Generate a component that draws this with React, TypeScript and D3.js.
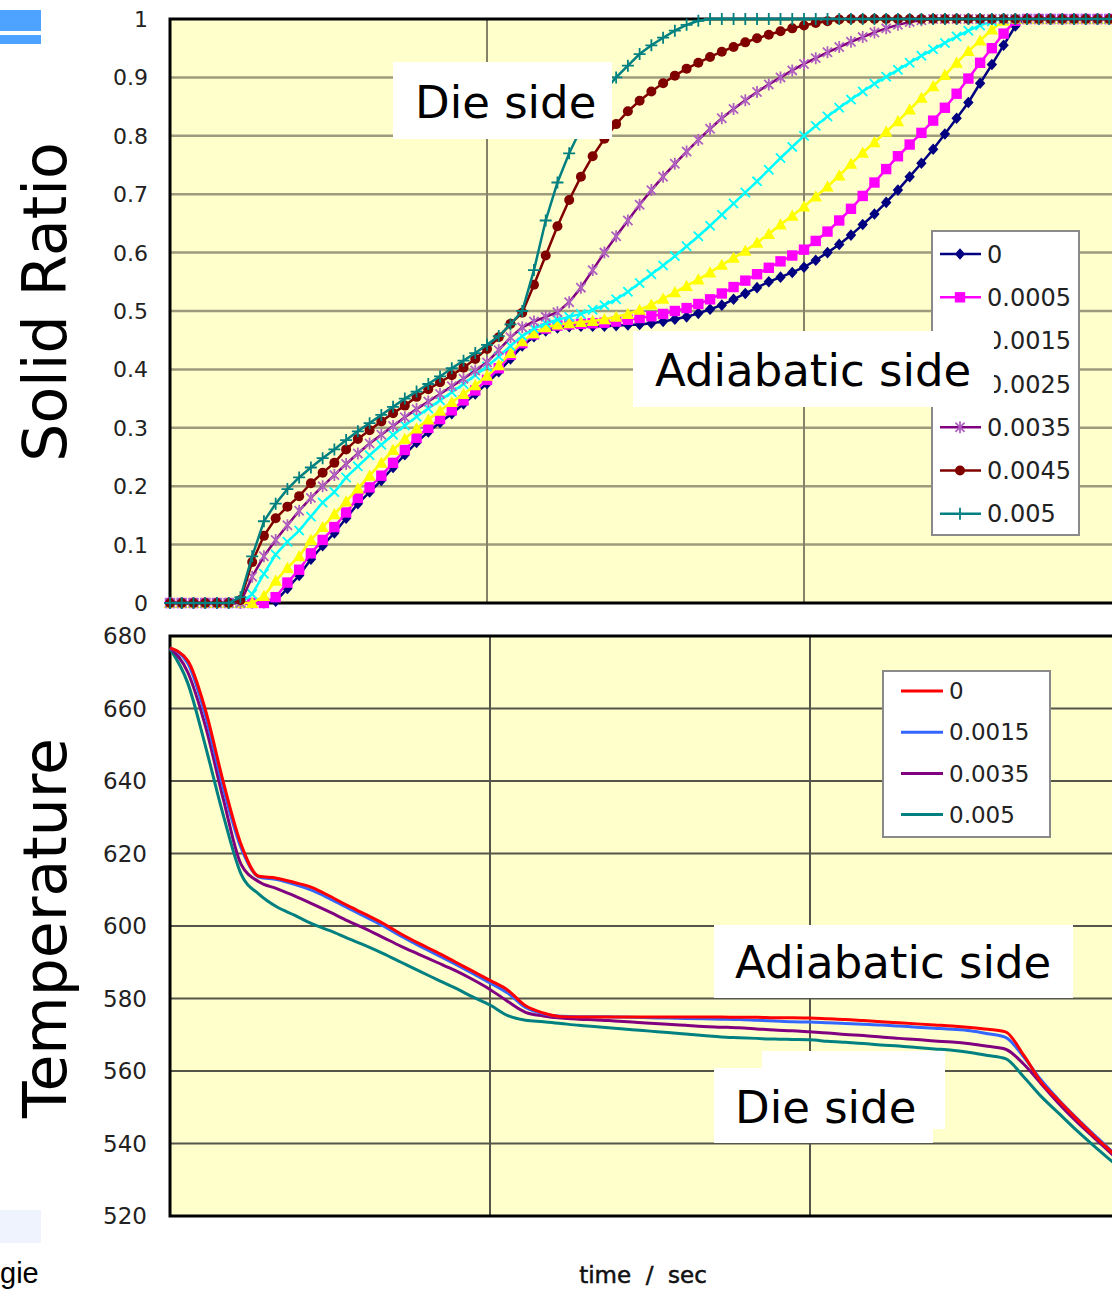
import React, { useEffect, useRef } from 'react'
import * as d3 from 'd3'

// ---- Solid ratio (top panel) ----
const solidLabels = ['0', '0.0005', '0.0015', '0.0025', '0.0035', '0.0045', '0.005']
const solidTicks = [0, 0.1, 0.2, 0.3, 0.4, 0.5, 0.6, 0.7, 0.8, 0.9, 1]
const solidTickText = ['0', '0.1', '0.2', '0.3', '0.4', '0.5', '0.6', '0.7', '0.8', '0.9', '1']
const solidTimeGrid = [27, 54]

const solid0 = [
  0, 0, 0, 0, 0, 0, 0, 0, 0, 0.003,
  0.025, 0.047, 0.075, 0.098, 0.12, 0.145, 0.17, 0.19, 0.21, 0.232,
  0.254, 0.275, 0.293, 0.309, 0.324, 0.341, 0.358, 0.376, 0.396, 0.418,
  0.44, 0.456, 0.466, 0.471, 0.473, 0.474, 0.474, 0.474, 0.475, 0.476,
  0.477, 0.479, 0.482, 0.486, 0.49, 0.496, 0.503, 0.51, 0.52, 0.53,
  0.54, 0.55, 0.558, 0.566, 0.575, 0.587, 0.6, 0.614, 0.63, 0.648,
  0.666, 0.686, 0.707, 0.73, 0.753, 0.777, 0.803, 0.83, 0.857, 0.89,
  0.922, 0.955, 0.988, 1, 1, 1, 1, 1, 1, 1,
  1, 1,
]
const solid0005 = [
  0, 0, 0, 0, 0, 0, 0, 0, 0, 0.01,
  0.035, 0.057, 0.085, 0.108, 0.13, 0.155, 0.18, 0.198, 0.218, 0.24,
  0.262, 0.283, 0.3, 0.315, 0.33, 0.347, 0.364, 0.382, 0.402, 0.425,
  0.445, 0.46, 0.47, 0.475, 0.477, 0.478, 0.479, 0.48, 0.482, 0.485,
  0.488, 0.491, 0.495, 0.5, 0.505, 0.512, 0.52, 0.53, 0.541, 0.552,
  0.563, 0.574, 0.585, 0.595, 0.605, 0.62, 0.636, 0.655, 0.675, 0.697,
  0.72, 0.743, 0.765, 0.785, 0.805, 0.826, 0.848, 0.872, 0.898, 0.925,
  0.95, 0.975, 0.997, 1, 1, 1, 1, 1, 1, 1,
  1, 1,
]
const solid0015 = [
  0, 0, 0, 0, 0, 0, 0, 0, 0.012, 0.038,
  0.06, 0.08, 0.108, 0.13, 0.152, 0.174, 0.196, 0.218, 0.24, 0.262,
  0.281, 0.299, 0.314, 0.329, 0.344, 0.358, 0.373, 0.389, 0.407, 0.428,
  0.448, 0.462, 0.472, 0.477, 0.479, 0.481, 0.483, 0.486, 0.49, 0.495,
  0.502, 0.511, 0.521, 0.532, 0.543, 0.554, 0.566, 0.579, 0.591, 0.603,
  0.617, 0.632, 0.648, 0.663, 0.679, 0.696, 0.713, 0.732, 0.752, 0.771,
  0.789, 0.807, 0.825, 0.845, 0.865, 0.885, 0.904, 0.925, 0.945, 0.963,
  0.982, 0.997, 1, 1, 1, 1, 1, 1, 1, 1,
  1, 1,
]
const solid0025 = [
  0, 0, 0, 0, 0, 0, 0, 0.015, 0.05, 0.083,
  0.105, 0.124, 0.148, 0.172, 0.19, 0.215, 0.234, 0.253, 0.271, 0.288,
  0.304, 0.319, 0.333, 0.347, 0.361, 0.375, 0.39, 0.405, 0.422, 0.44,
  0.457, 0.47, 0.479, 0.485, 0.49, 0.495, 0.502, 0.51, 0.52, 0.533,
  0.548, 0.563, 0.578, 0.594, 0.611, 0.628, 0.646, 0.665, 0.684, 0.703,
  0.722, 0.742, 0.762, 0.781, 0.8, 0.817, 0.833, 0.848, 0.862, 0.876,
  0.889, 0.901, 0.913, 0.925, 0.937, 0.948, 0.959, 0.97, 0.98, 0.989,
  0.996, 1, 1, 1, 1, 1, 1, 1, 1, 1,
  1, 1,
]
const solid0035 = [
  0, 0, 0, 0, 0, 0, 0, 0.045, 0.08, 0.108,
  0.133, 0.158, 0.18, 0.2, 0.219, 0.238, 0.256, 0.273, 0.288, 0.303,
  0.318, 0.332, 0.345, 0.358, 0.371, 0.384, 0.398, 0.412, 0.433, 0.455,
  0.472, 0.482, 0.49, 0.498, 0.515, 0.54, 0.57, 0.6, 0.628, 0.655,
  0.682, 0.707, 0.73, 0.752, 0.773, 0.793, 0.812, 0.83, 0.846, 0.861,
  0.875, 0.888, 0.9, 0.912, 0.923, 0.933, 0.943, 0.952, 0.961, 0.969,
  0.977, 0.984, 0.99, 0.995, 0.998, 1, 1, 1, 1, 1,
  1, 1, 1, 1, 1, 1, 1, 1, 1, 1,
  1, 1,
]
const solid0045 = [
  0, 0, 0, 0, 0, 0, 0.005, 0.07, 0.115, 0.145,
  0.165, 0.183, 0.205, 0.223, 0.24, 0.263, 0.281, 0.296, 0.311, 0.325,
  0.338, 0.353, 0.366, 0.378, 0.39, 0.403, 0.418, 0.435, 0.455, 0.478,
  0.497, 0.545, 0.595, 0.645, 0.69, 0.73, 0.765, 0.795, 0.82, 0.842,
  0.86, 0.876, 0.89, 0.903, 0.915, 0.925, 0.935, 0.944, 0.952, 0.96,
  0.967, 0.973, 0.979, 0.984, 0.989, 0.993, 0.996, 0.999, 1, 1,
  1, 1, 1, 1, 1, 1, 1, 1, 1, 1,
  1, 1, 1, 1, 1, 1, 1, 1, 1, 1,
  1, 1,
]
const solid005 = [
  0, 0, 0, 0, 0, 0, 0.01, 0.08, 0.14, 0.17,
  0.195, 0.215, 0.232, 0.248, 0.263, 0.279, 0.294, 0.308, 0.322, 0.336,
  0.35, 0.362, 0.375, 0.388, 0.402, 0.415, 0.428, 0.442, 0.457, 0.477,
  0.5, 0.57, 0.655, 0.72, 0.77, 0.812, 0.848, 0.877, 0.9, 0.92,
  0.94, 0.955, 0.968, 0.98, 0.99, 0.997, 1, 1, 1, 1,
  1, 1, 1, 1, 1, 1, 1, 1, 1, 1,
  1, 1, 1, 1, 1, 1, 1, 1, 1, 1,
  1, 1, 1, 1, 1, 1, 1, 1, 1, 1,
  1, 1,
]
const solidSeries = [solid0, solid0005, solid0015, solid0025, solid0035, solid0045, solid005]
const solidColors = ['#000080', '#ff00ff', '#ffff00', '#00ffff', '#800080', '#800000', '#008080']
const solidMarkerColors = ['#000080', '#ff00ff', '#ffff00', '#00ffff', '#b060c0', '#800000', '#008080']
const solidMarkers = ['diamond', 'square', 'triangle', 'x', 'star', 'circle', 'plus']

// ---- Temperature (bottom panel) ----
const tempLabels = ['0', '0.0015', '0.0035', '0.005']
const tempTicks = [520, 540, 560, 580, 600, 620, 640, 660, 680]
const tempTimeGrid = [18, 36]
const temp0 = [
  676.7, 673.2, 659.5, 639.7, 622.5, 613.7, 613.2, 612, 610.6, 608.2,
  605.6, 603.2, 600.7, 597.8, 595.2, 592.8, 590.2, 587.6, 585, 582.3,
  578, 576, 575, 574.9, 574.9, 574.9, 574.9, 574.9, 574.9, 574.9,
  574.9, 574.9, 574.8, 574.8, 574.7, 574.7, 574.6, 574.4, 574.2, 573.9,
  573.6, 573.3, 573, 572.7, 572.4, 572, 571.5, 570.8, 564.5, 557,
  551.8, 546.8, 542, 537.5, 532.8,
]
const temp0015 = [
  676.7, 672.5, 658, 638, 621.5, 613.5, 612.8, 611.5, 609.8, 607.5,
  605, 602.5, 600, 597.2, 594.6, 592.1, 589.6, 587, 584.3, 581.5,
  577.5, 575.8, 575.1, 575, 575, 574.9, 574.8, 574.7, 574.6, 574.5,
  574.4, 574.3, 574.2, 574, 573.8, 573.6, 573.5, 573.3, 573.1, 572.9,
  572.7, 572.4, 572.1, 571.8, 571.5, 571.1, 570.3, 569.3, 564, 557.5,
  552, 547, 542.3, 537.8, 533.2,
]
const temp0035 = [
  676.7, 670, 655, 635, 617, 612.2, 610.3, 608.3, 606.1, 603.8,
  601.4, 599.2, 596.8, 594.4, 592.2, 590, 587.8, 585.3, 582.5, 579.2,
  576.2, 575.2, 574.6, 574.3, 574.1, 573.8, 573.5, 573.2, 572.9, 572.6,
  572.3, 572.1, 571.9, 571.6, 571.3, 571.1, 570.8, 570.5, 570.1, 569.8,
  569.4, 569, 568.7, 568.3, 568, 567.5, 566.8, 566, 562, 556.5,
  551, 546, 541.5, 537, 532.5,
]
const temp005 = [
  676.5, 667, 649.5, 630.5, 614.3, 608.8, 605.3, 603, 600.6, 598.7,
  596.6, 594.6, 592.4, 590, 587.6, 585.3, 583, 580.5, 578.2, 575.3,
  574, 573.6, 573.1, 572.6, 572.2, 571.8, 571.4, 571, 570.6, 570.2,
  569.8, 569.4, 569.2, 569, 568.8, 568.7, 568.6, 568.2, 567.9, 567.6,
  567.2, 566.9, 566.5, 566.1, 565.7, 565.1, 564.3, 563.4, 558.5, 553,
  548.3, 543.6, 539.2, 535, 530.8,
]
const tempSeries = [temp0, temp0015, temp0035, temp005]
const tempColors = ['#ff0000', '#3366ff', '#800080', '#008080']

const markerPath: Record<string, string> = {
  diamond: 'M0,-5.8L5.2,0L0,5.8L-5.2,0Z',
  square: 'M-5.2,-5.2H5.2V5.2H-5.2Z',
  triangle: 'M0,-6.2L6.2,5L-6.2,5Z',
  x: 'M-4.6,-4.6L4.6,4.6M-4.6,4.6L4.6,-4.6',
  star: 'M-4.6,-4.6L4.6,4.6M-4.6,4.6L4.6,-4.6M0,-6V6',
  circle: 'M5,0A5,5,0,1,1,-5,0A5,5,0,1,1,5,0Z',
  plus: 'M-6,0H6M0,-6V6',
}
const strokeMarkers = new Set(['x', 'star', 'plus'])

const FONT = '"DejaVu Sans", Verdana, sans-serif'

export default function App() {
  const svgRef = useRef<SVGSVGElement>(null)

  useEffect(() => {
    if (!svgRef.current) return
    const svg = d3.select(svgRef.current)
    svg.selectAll('*').remove()

    // slide remnants at the left edge
    svg.append('rect').attr('x', 0).attr('y', 10).attr('width', 41).attr('height', 21).attr('fill', '#4da3ff')
    svg.append('rect').attr('x', 0).attr('y', 35).attr('width', 41).attr('height', 9).attr('fill', '#4da3ff')
    svg.append('rect').attr('x', 0).attr('y', 1210).attr('width', 41).attr('height', 33).attr('fill', '#eef3fd')
    svg.append('text').attr('x', 0).attr('y', 1283)
      .style('font-family', '"Liberation Sans", Arial, sans-serif').style('font-size', '29px')
      .text('gie')

    const putMarker = (g: d3.Selection<SVGGElement, unknown, null, undefined>, kind: string, color: string, x: number, y: number) => {
      const p = g.append('path').attr('d', markerPath[kind]).attr('transform', `translate(${x},${y})`)
      if (strokeMarkers.has(kind)) p.attr('fill', 'none').attr('stroke', color).attr('stroke-width', 1.8)
      else p.attr('fill', color)
    }

    // ================= top panel =================
    const xS = d3.scaleLinear().domain([0, 81]).range([170, 1121])
    const yS = d3.scaleLinear().domain([0, 1]).range([603, 19])
    const top = svg.append('g')

    top.append('rect').attr('x', 170).attr('y', yS(1)).attr('width', 1121 - 170).attr('height', yS(0) - yS(1)).attr('fill', '#ffffcc')
    top.selectAll('line.hg').data(solidTicks.slice(1, -1)).join('line')
      .attr('class', 'hg')
      .attr('x1', 170).attr('x2', 1121)
      .attr('y1', (d) => yS(d)).attr('y2', (d) => yS(d))
      .attr('stroke', '#9e9a7c').attr('stroke-width', 2.5)
    top.selectAll('line.vg').data(solidTimeGrid).join('line')
      .attr('class', 'vg')
      .attr('x1', (d) => xS(d)).attr('x2', (d) => xS(d))
      .attr('y1', yS(1)).attr('y2', yS(0))
      .attr('stroke', '#85826a').attr('stroke-width', 2)
    top.append('path')
      .attr('d', `M1121,${yS(1)}H170V${yS(0)}H1121`)
      .attr('fill', 'none').attr('stroke', '#000').attr('stroke-width', 3)

    top.selectAll('text.tick').data(solidTicks).join('text')
      .attr('class', 'tick')
      .attr('x', 148).attr('y', (d) => yS(d)).attr('dy', '0.36em')
      .attr('text-anchor', 'end')
      .style('font-family', FONT).style('font-size', '22px').style('fill', '#222')
      .text((d, i) => solidTickText[i])

    const lineS = d3.line<number>().x((d, i) => xS(i)).y((d) => yS(d))
    solidSeries.forEach((series, k) => {
      const g = top.append('g')
      g.append('path').attr('d', lineS(series) || '')
        .attr('fill', 'none').attr('stroke', solidColors[k]).attr('stroke-width', 2.5)
      series.forEach((v, i) => putMarker(g, solidMarkers[k], solidMarkerColors[k], xS(i), yS(v)))
    })

    // legend
    const lg = top.append('g')
    lg.append('rect').attr('x', 932).attr('y', 231).attr('width', 147).attr('height', 304)
      .attr('fill', '#fff').attr('stroke', '#8a8a8a').attr('stroke-width', 2)
    solidLabels.forEach((lab, k) => {
      const yy = 254 + k * 43.3
      lg.append('line').attr('x1', 940).attr('x2', 981).attr('y1', yy).attr('y2', yy)
        .attr('stroke', solidColors[k]).attr('stroke-width', 2.5)
      putMarker(lg, solidMarkers[k], solidMarkerColors[k], 960, yy)
      lg.append('text').attr('x', 987).attr('y', yy).attr('dy', '0.36em')
        .style('font-family', FONT).style('font-size', '24px').style('fill', '#222')
        .text(lab)
    })

    // annotations
    top.append('rect').attr('x', 393).attr('y', 62).attr('width', 219).attr('height', 77).attr('fill', '#fff')
    top.append('text').attr('x', 415).attr('y', 118)
      .style('font-family', FONT).style('font-size', '45px').text('Die side')
    top.append('rect').attr('x', 633).attr('y', 331).attr('width', 300).attr('height', 76).attr('fill', '#fff')
    top.append('rect').attr('x', 932).attr('y', 331).attr('width', 62).attr('height', 65).attr('fill', '#fff')
    top.append('text').attr('x', 655).attr('y', 386)
      .style('font-family', FONT).style('font-size', '45px').text('Adiabatic side')

    // ================= bottom panel =================
    const xT = d3.scaleLinear().domain([0, 54]).range([170, 1130])
    const yT = d3.scaleLinear().domain([520, 680]).range([1216, 636])
    const bot = svg.append('g')

    bot.append('rect').attr('x', 170).attr('y', yT(680)).attr('width', 1130 - 170).attr('height', yT(520) - yT(680)).attr('fill', '#ffffcc')
    bot.selectAll('line.hg').data(tempTicks.slice(1, -1)).join('line')
      .attr('class', 'hg')
      .attr('x1', 170).attr('x2', 1130)
      .attr('y1', (d) => yT(d)).attr('y2', (d) => yT(d))
      .attr('stroke', '#55554a').attr('stroke-width', 2)
    bot.selectAll('line.vg').data(tempTimeGrid).join('line')
      .attr('class', 'vg')
      .attr('x1', (d) => xT(d)).attr('x2', (d) => xT(d))
      .attr('y1', yT(680)).attr('y2', yT(520))
      .attr('stroke', '#55554a').attr('stroke-width', 2)
    bot.append('path')
      .attr('d', `M1130,${yT(680)}H170V${yT(520)}H1130`)
      .attr('fill', 'none').attr('stroke', '#000').attr('stroke-width', 3)

    bot.selectAll('text.tick').data(tempTicks).join('text')
      .attr('class', 'tick')
      .attr('x', 147).attr('y', (d) => yT(d)).attr('dy', '0.36em')
      .attr('text-anchor', 'end')
      .style('font-family', FONT).style('font-size', '23px').style('fill', '#222')
      .text((d) => String(d))

    const lineT = d3.line<number>().x((d, i) => xT(i)).y((d) => yT(d)).curve(d3.curveMonotoneX)
    tempSeries.slice().reverse().forEach((series, r) => {
      const k = tempSeries.length - 1 - r
      bot.append('path').attr('d', lineT(series) || '')
        .attr('fill', 'none').attr('stroke', tempColors[k]).attr('stroke-width', 3)
        .attr('stroke-linejoin', 'round')
    })

    const lb = bot.append('g')
    lb.append('rect').attr('x', 883).attr('y', 671).attr('width', 167).attr('height', 166)
      .attr('fill', '#fff').attr('stroke', '#8a8a8a').attr('stroke-width', 2)
    tempLabels.forEach((lab, k) => {
      const yy = 691 + k * 41.2
      lb.append('line').attr('x1', 901).attr('x2', 943).attr('y1', yy).attr('y2', yy)
        .attr('stroke', tempColors[k]).attr('stroke-width', 3)
      lb.append('text').attr('x', 949).attr('y', yy).attr('dy', '0.36em')
        .style('font-family', FONT).style('font-size', '23px').style('fill', '#222')
        .text(lab)
    })

    bot.append('rect').attr('x', 714).attr('y', 925).attr('width', 359).attr('height', 73).attr('fill', '#fff')
    bot.append('text').attr('x', 735).attr('y', 978)
      .style('font-family', FONT).style('font-size', '45px').text('Adiabatic side')
    bot.append('rect').attr('x', 762).attr('y', 1051).attr('width', 183).attr('height', 78).attr('fill', '#fff')
    bot.append('rect').attr('x', 714).attr('y', 1068).attr('width', 219).attr('height', 75).attr('fill', '#fff')
    bot.append('text').attr('x', 735).attr('y', 1123)
      .style('font-family', FONT).style('font-size', '45px').text('Die side')

    // axis titles
    svg.append('text')
      .attr('transform', 'translate(66,302) rotate(-90)')
      .attr('text-anchor', 'middle')
      .style('font-family', FONT).style('font-size', '60px')
      .text('Solid Ratio')
    svg.append('text')
      .attr('transform', 'translate(66,928) rotate(-90)')
      .attr('text-anchor', 'middle')
      .style('font-family', FONT).style('font-size', '60px')
      .text('Temperature')
    svg.append('text')
      .attr('x', 643).attr('y', 1283)
      .attr('text-anchor', 'middle')
      .attr('xml:space', 'preserve')
      .style('white-space', 'pre')
      .style('font-family', FONT).style('font-size', '23px')
      .style('fill', '#111').style('stroke', '#111').style('stroke-width', '0.5px')
      .text('time  /  sec')
  }, [])

  return (
    <div style={{ position: 'absolute', left: 0, top: 0, width: 1112, height: 1291, overflow: 'hidden', background: '#fff' }}>
      <svg ref={svgRef} width={1112} height={1291} style={{ display: 'block' }} />
    </div>
  )
}
